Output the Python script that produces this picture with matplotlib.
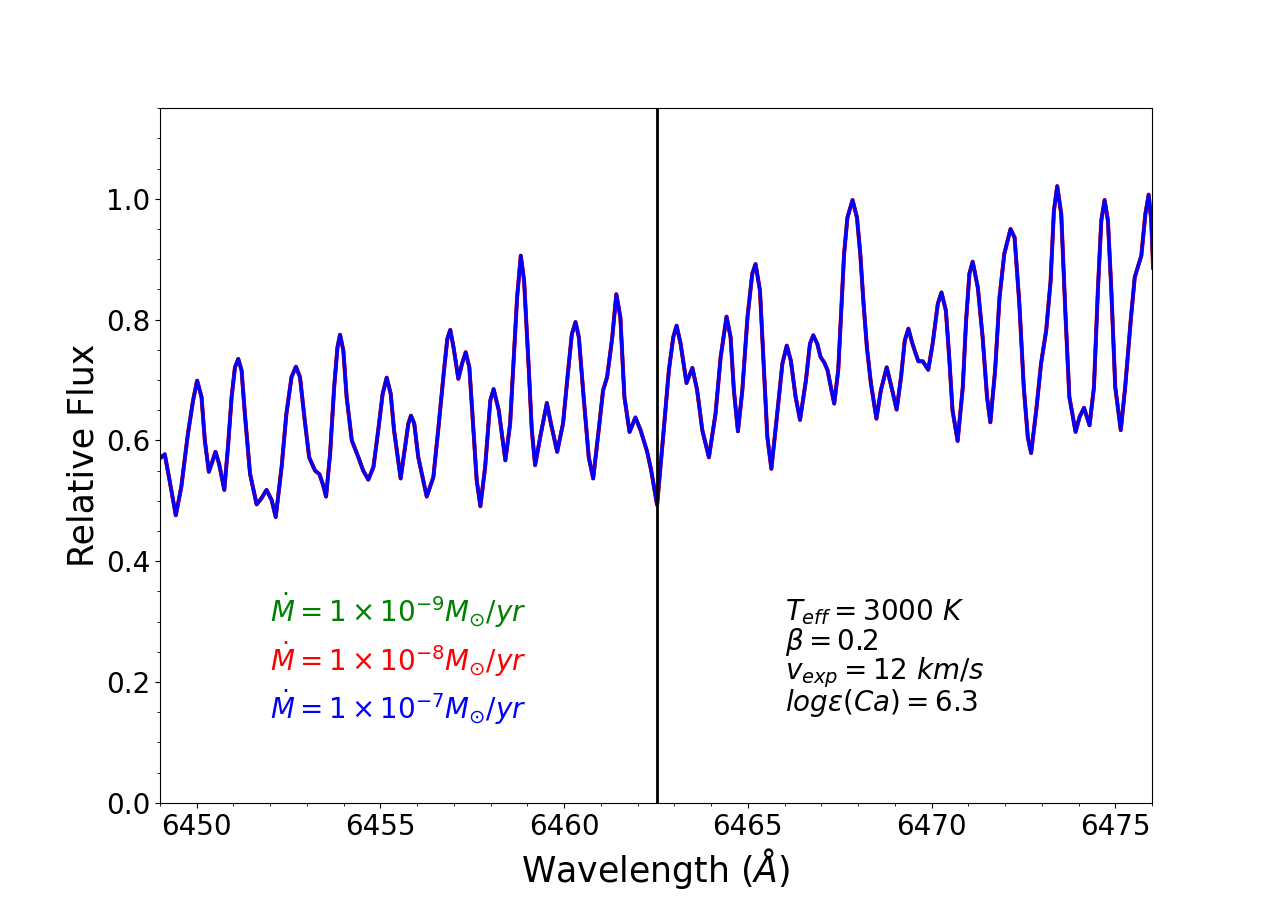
import matplotlib.pyplot as plt
from matplotlib.ticker import MultipleLocator

# wavelength grid (Angstrom) and relative flux
wave = [
    6448.99, 6449.13, 6449.26, 6449.43, 6449.58, 6449.76, 6449.90, 6450.01, 6450.13, 6450.22,
    6450.33, 6450.42, 6450.51, 6450.61, 6450.75, 6450.85, 6450.95, 6451.04, 6451.13, 6451.22,
    6451.31, 6451.45, 6451.63, 6451.76, 6451.90, 6452.04, 6452.15, 6452.31, 6452.44, 6452.58,
    6452.70, 6452.81, 6452.94, 6453.06, 6453.22, 6453.34, 6453.44, 6453.52,
    6453.63, 6453.74, 6453.83, 6453.90, 6453.99, 6454.08, 6454.22, 6454.40, 6454.53, 6454.67,
    6454.81, 6454.94, 6455.06, 6455.17, 6455.28, 6455.37, 6455.55, 6455.67, 6455.76, 6455.83,
    6455.92, 6456.03, 6456.26, 6456.44, 6456.58, 6456.72, 6456.82, 6456.90, 6456.99, 6457.12,
    6457.22, 6457.32, 6457.42, 6457.53, 6457.62, 6457.72, 6457.85, 6457.99,
    6458.08, 6458.22, 6458.40, 6458.53, 6458.62, 6458.72, 6458.82, 6458.91, 6459.03, 6459.12,
    6459.21, 6459.35, 6459.53, 6459.64, 6459.81, 6459.97, 6460.10, 6460.21, 6460.31, 6460.40,
    6460.53, 6460.67, 6460.79, 6460.94, 6461.06, 6461.17, 6461.31, 6461.42, 6461.53, 6461.64,
    6461.78, 6461.94, 6462.08, 6462.26, 6462.37, 6462.53,
    6462.71, 6462.85, 6462.97, 6463.06, 6463.17, 6463.33, 6463.49, 6463.62, 6463.76, 6463.94,
    6464.12, 6464.26, 6464.42, 6464.53, 6464.62, 6464.73, 6464.85, 6464.99, 6465.12, 6465.21,
    6465.33, 6465.44, 6465.53, 6465.64, 6465.79, 6465.94, 6466.06, 6466.17, 6466.30, 6466.42,
    6466.58, 6466.69, 6466.78, 6466.89, 6466.98,
    6467.08, 6467.17, 6467.26, 6467.35, 6467.46, 6467.55, 6467.62, 6467.71, 6467.85, 6467.97,
    6468.06, 6468.15, 6468.24, 6468.35, 6468.50, 6468.62, 6468.78, 6468.91, 6469.05, 6469.17,
    6469.27, 6469.37, 6469.48, 6469.64, 6469.76, 6469.91, 6470.03, 6470.17, 6470.27, 6470.39,
    6470.48, 6470.57, 6470.71, 6470.85, 6470.94, 6471.03, 6471.12,
    6471.26, 6471.39, 6471.51, 6471.60, 6471.73, 6471.85, 6471.98, 6472.15, 6472.26, 6472.39,
    6472.51, 6472.62, 6472.71, 6472.85, 6472.98, 6473.12, 6473.24, 6473.33, 6473.42, 6473.53,
    6473.64, 6473.75, 6473.92, 6474.03, 6474.15, 6474.30, 6474.42, 6474.53, 6474.62, 6474.71,
    6474.80, 6474.89, 6475.00, 6475.15, 6475.27, 6475.42, 6475.53, 6475.71, 6475.82, 6475.91,
    6475.98, 6476.03,
]
flux = [
    0.570, 0.577, 0.534, 0.476, 0.523, 0.611, 0.666, 0.699, 0.672, 0.600,
    0.548, 0.564, 0.581, 0.561, 0.518, 0.589, 0.672, 0.721, 0.735, 0.716,
    0.644, 0.545, 0.494, 0.504, 0.518, 0.501, 0.473, 0.556, 0.644, 0.705,
    0.722, 0.705, 0.633, 0.572, 0.550, 0.544, 0.526, 0.507,
    0.578, 0.688, 0.754, 0.775, 0.749, 0.672, 0.600, 0.572, 0.550, 0.535,
    0.556, 0.617, 0.677, 0.704, 0.677, 0.617, 0.537, 0.589, 0.628, 0.641,
    0.628, 0.572, 0.507, 0.539, 0.622, 0.710, 0.768, 0.783, 0.754, 0.702,
    0.727, 0.746, 0.721, 0.617, 0.534, 0.491, 0.556, 0.666,
    0.685, 0.650, 0.567, 0.628, 0.727, 0.837, 0.906, 0.864, 0.727, 0.617,
    0.559, 0.606, 0.662, 0.628, 0.581, 0.628, 0.710, 0.776, 0.796, 0.771,
    0.672, 0.572, 0.537, 0.617, 0.683, 0.705, 0.771, 0.842, 0.804, 0.672,
    0.614, 0.638, 0.617, 0.581, 0.550, 0.493,
    0.617, 0.716, 0.771, 0.790, 0.760, 0.695, 0.720, 0.683, 0.617, 0.572,
    0.644, 0.738, 0.805, 0.771, 0.683, 0.615, 0.683, 0.804, 0.876, 0.892,
    0.848, 0.716, 0.606, 0.553, 0.639, 0.727, 0.757, 0.732, 0.672, 0.634,
    0.699, 0.760, 0.774, 0.760, 0.738,
    0.729, 0.716, 0.688, 0.661, 0.716, 0.826, 0.909, 0.969, 0.998, 0.969,
    0.909, 0.826, 0.754, 0.694, 0.636, 0.683, 0.721, 0.688, 0.651, 0.705,
    0.765, 0.785, 0.760, 0.731, 0.731, 0.717, 0.760, 0.826, 0.845, 0.815,
    0.738, 0.650, 0.599, 0.688, 0.798, 0.876, 0.896,
    0.853, 0.771, 0.672, 0.630, 0.716, 0.837, 0.909, 0.950, 0.936, 0.826,
    0.688, 0.605, 0.579, 0.650, 0.727, 0.782, 0.864, 0.980, 1.021, 0.975,
    0.815, 0.672, 0.614, 0.639, 0.654, 0.625, 0.688, 0.853, 0.964, 0.998,
    0.964, 0.853, 0.688, 0.617, 0.688, 0.798, 0.870, 0.906, 0.975, 1.007,
    0.964, 0.886,
]

ca_line = 6462.52
mdot_labels = [r'$\dot{M} = 1 \times 10^{-9} M_{\odot}/yr$',
               r'$\dot{M} = 1 \times 10^{-8} M_{\odot}/yr$',
               r'$\dot{M} = 1 \times 10^{-7} M_{\odot}/yr$']
mdot_colors = ['green', 'red', 'blue']
params = [r'$T_{eff} = 3000\ K$', r'$\beta = 0.2$',
          r'$v_{exp} = 12\ km/s$', r'$log\varepsilon(Ca) = 6.3$']

fig, ax = plt.subplots(figsize=(12.8, 9.02), dpi=100)

# the three mass-loss models overlap almost exactly
for col, lw in zip(mdot_colors, [2.5, 2.9, 2.5]):
    ax.plot(wave, flux, color=col, lw=lw, solid_joinstyle='round')

ax.axvline(ca_line, color='black', lw=2)

for i, (lab, col) in enumerate(zip(mdot_labels, mdot_colors)):
    ax.text(6452.0, 0.318 - 0.08 * i, lab, color=col, fontsize=20, va='center')

for i, p in enumerate(params):
    ax.text(6466.0, 0.316 - 0.0505 * i, p, fontsize=20, va='center')

ax.set_xlim(6449, 6476)
ax.set_ylim(0, 1.15)
ax.xaxis.set_minor_locator(MultipleLocator(1))
ax.yaxis.set_minor_locator(MultipleLocator(0.05))
ax.tick_params(labelsize=20)
ax.set_xlabel(r'Wavelength ($Å$)', fontsize=25)
ax.set_ylabel('Relative Flux', fontsize=25)

fig.savefig('out.png')
